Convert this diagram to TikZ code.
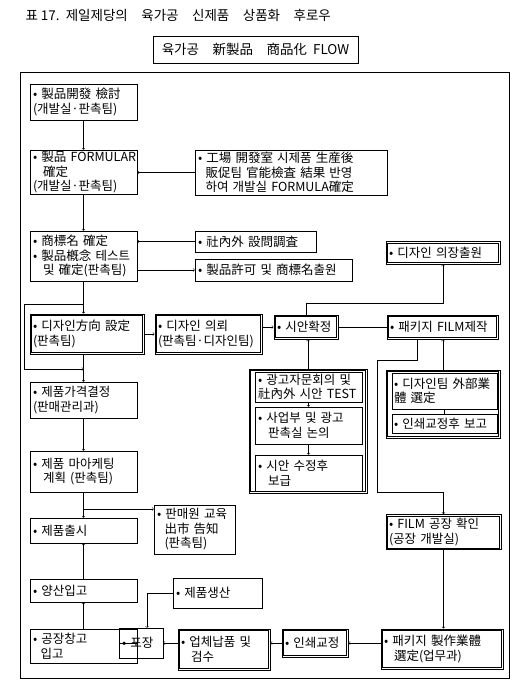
\documentclass[tikz,border=0pt]{standalone}
\usepackage{fontspec}
\setmainfont{Noto Sans CJK KR}

\begin{document}
\begin{tikzpicture}[x=1pt, y=-1pt, >=to,
  box/.style={draw, line width=0.6pt, inner xsep=3pt, inner ysep=1pt, align=left,
    font=\fontsize{12.5}{14.5}\selectfont},
  dbox/.style={box, line width=1pt,
    append after command={\pgfextra{\begin{pgfinterruptpath}
      \draw[line width=0.45pt] ([shift={(2.2pt,-2.2pt)}]\tikzlastnode.north west)
        rectangle ([shift={(-2.2pt,2.2pt)}]\tikzlastnode.south east);
      \end{pgfinterruptpath}}}}]
  \useasboundingbox (0,0) rectangle (520,684);

  % Title and frame
  \node[anchor=west, font=\fontsize{13.5}{16}\selectfont] (T1) at (22,15)
    {표 17.\ \ 제일제당의\quad 육가공\quad 신제품\quad 상품화\quad 후로우};
  \node[box, align=center, minimum width=205pt, minimum height=27pt,
    font=\fontsize{13.5}{16}\selectfont] (T2) at (255.5,49.5)
    {육가공\quad 新製品\quad 商品化\ \ FLOW};
  \draw[line width=0.9pt] (20,72) rectangle (509,678);

  % Left column
  \node[box, text width=101pt, minimum height=36pt] (L1) at (83.5,102) {• 製品開發~檢討\\(개발실·판촉팀)};
  \node[box, text width=101pt, minimum height=42pt] (L2) at (83.5,172) {•~製品~\mbox{FORMULAR}\\\hspace*{0.8em}確定\\(개발실·판촉팀)};
  \node[box, text width=101pt, minimum height=50pt] (L3) at (83.5,256) {• 商標名~確定\\• 製品槪念~테스트\\\hspace*{0.8em}및~確定(판촉팀)};
  \node[dbox, text width=108pt, minimum height=40pt] (L4) at (87,334) {• 디자인方向~設定\\(판촉팀)};
  \node[box, text width=101pt, minimum height=36pt] (L5) at (83.5,400) {• 제품가격결정\\(판매관리과)};
  \node[box, text width=101pt, minimum height=41pt] (L6) at (83.5,471.5) {• 제품~마아케팅\\\hspace*{0.8em}계획~(판촉팀)};
  \node[box, text width=101pt, minimum height=25pt] (L7) at (83.5,530.5) {• 제품출시};
  \node[box, text width=101pt, minimum height=23pt] (L8) at (83.5,590.5) {• 양산입고};
  \node[box, text width=101pt, minimum height=34pt] (L9) at (83.5,646) {• 공장창고\\\hspace*{0.6em}입고};

  % Side boxes
  \node[box, text width=186pt, minimum height=45pt] (S1) at (291,172.5)
    {• 工場~開發室~시제품~生産後\\\hspace*{0.6em}販促팀~官能檢査~結果~반영\\\hspace*{0.6em}하여~개발실~\mbox{FORMULA}確定};
  \node[box, text width=115pt, minimum height=21pt] (S2) at (255.5,241.5) {• 社內外~設問調査};
  \node[box, text width=151pt, minimum height=22pt] (S3) at (273.5,270) {• 製品許可~및~商標名출원};
  \node[dbox, text width=101pt, minimum height=40pt] (S4) at (208.5,334) {• 디자인~의뢰\\(판촉팀·디자인팀)};
  \node[box, text width=75pt, minimum height=49pt] (S5) at (194.5,529.5) {• 판매원~교육\\\hspace*{0.6em}出市~告知\\\hspace*{0.6em}(판촉팀)};

  % Design row
  \node[dbox, text width=58pt, minimum height=24pt] (D1) at (306,327) {• 시안확정};
  \node[dbox, text width=105pt, minimum height=24pt] (D2) at (442.5,327) {• 패키지~\mbox{FILM}제작};
  \node[dbox, text width=108pt, minimum height=22pt] (D3) at (443,253) {• 디자인~의장출원};

  % Groups under the design row
  \node[dbox, minimum width=118pt, minimum height=124pt] (G1) at (308,431) {};
  \node[box, text width=101pt, minimum height=30pt] (A1) at (308.5,387) {• 광고자문회의~및\\社內外~시안~TEST};
  \node[box, text width=101pt, minimum height=37pt] (A2) at (308.5,425.5) {• 사업부~및~광고\\\hspace*{0.8em}판촉실~논의};
  \node[box, text width=101pt, minimum height=36pt] (A3) at (308.5,473) {• 시안~수정후\\\hspace*{0.8em}보급};
  \node[dbox, minimum width=114pt, minimum height=68pt] (G2) at (443,404) {};
  \node[box, inner xsep=2pt, text width=101pt, minimum height=36pt] (B1) at (444.5,391) {• 디자인팀~外部業\\體~選定};
  \node[box, inner xsep=2pt, text width=101pt, minimum height=19pt] (B2) at (444.5,423.5) {• 인쇄교정후~보고};

  % Bottom row
  \node[dbox, text width=109pt, minimum height=35pt] (F1) at (443.5,532) {• FILM~공장~확인\\(공장~개발실)};
  \node[dbox, text width=116pt, minimum height=40pt] (F2) at (442,649) {• 패키지~製作業體\\\hspace*{0.8em}選定(업무과)};
  \node[dbox, text width=60pt, minimum height=28pt] (F3) at (315,643) {• 인쇄교정};
  \node[dbox, text width=86pt, minimum height=41pt] (F4) at (224,649.5) {• 업체납품~및\\\hspace*{0.8em}검수};
  \node[box, text width=38pt, minimum height=30pt] (F5) at (141,643) {• 포장};
  \node[box, text width=83pt, minimum height=30pt] (F6) at (217.5,593) {• 제품생산};

  \coordinate (C1) at (83.5,304);
  \coordinate (C2) at (83.5,369);
  \coordinate (C3) at (377,360);
  \coordinate (C4) at (377,492);
  \coordinate (C5) at (83.5,509);

  % Connectors
  \draw[->] (L1) -- (L2);
  \draw[->] (S1.west) -- (S1.west -| L2.east);
  \draw[->] (L2) -- (L3);
  \draw[->] (S2.west) -- (S2.west -| L3.east);
  \draw[->] (L3.east |- S3.west) -- (S3.west);
  \draw[->] (L3.south) -- (L3.south |- L4.north);
  \draw[->] (C1) -- ++(-59.5,0) |- (C2);
  \draw[->] (L4.south -| C1) -- (L5.north -| C1);
  \draw[->] (L4) -- (S4);
  \draw[->] (S4.east |- D1.west) -- (D1.west);
  \draw (D1) -- (D2);
  \draw[->] (D1.north) -- ++(0,-11) -| (D3.south);
  \draw[->] (G1.north) -- (G1.north |- D1.south);
  \draw[->] (A1) -- (A2);
  \draw[->] (A2) -- (A3);
  \draw[->] (G2.north) -- (G2.north |- D2.south);
  \draw (B1) -- (B2);
  \draw[->] ([xshift=-25.5pt]D2.south) |- (C3) -- (C4) -| (F1.north);
  \draw[->] (F1.south) -- (F1.south |- F2.north);
  \draw[->] (F2.west |- F3) -- (F3.east);
  \draw[->] (F3.west) -- (F3.west -| F4.east);
  \draw[->] (F4.west |- F5) -- (F5.east);
  \draw[->] (F5.west) -- (F5.west -| L9.east);
  \draw[->] (F6.west) -| ([xshift=6pt]F5.north);
  \draw[->] (L9) -- (L8);
  \draw[->] (L8) -- (L7);
  \draw[->] (L5) -- (L6);
  \draw[->] (L6) -- (L7);
  \draw[->] (C5) -- (C5 -| S5.west);
\end{tikzpicture}
\end{document}
